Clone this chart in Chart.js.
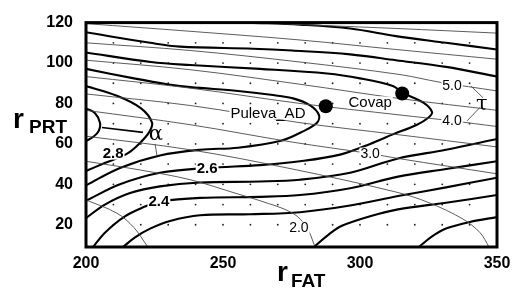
<!DOCTYPE html>
<html><head><meta charset="utf-8">
<script src="https://cdn.jsdelivr.net/npm/chart.js@4/dist/chart.umd.min.js"></script>
<style>html,body{margin:0;padding:0;background:#fff;}</style>
</head><body>
<canvas id="c" width="519" height="291"></canvas>
<script>
// ---- axes ----
const xTicks = [200, 250, 300, 350];
const yTicks = [20, 40, 60, 80, 100, 120];
const xMin = 200, xMax = 350, yMin = 9, yMax = 120;

// ---- sampling grid (dots) ----
const dotX = [210, 220, 230, 240, 250, 260, 270, 280, 290, 300, 310, 320, 330, 340];
const dotY = [20, 30, 40, 50, 60, 70, 80, 90, 100, 110];

// ---- alpha contours (thick) ----
const aNubX = [200, 203.3, 205.1, 204.7, 202.9, 200];
const aNubY = [77.6, 75.2, 70.5, 66.6, 63.8, 61.4];
const a28X = [200, 211.3, 220.1, 224.1, 223.0, 219.7, 215.0, 206.6, 200];
const a28Y = [88.6, 83.8, 77.6, 70.5, 65.7, 60.5, 55.2, 50.4, 46.6];
const aPulX = [200, 217.5, 229.6, 238.0, 255.5, 267.5, 275.9, 281.8, 285.0, 284.3, 279.2, 270.8, 255.5, 241.6, 227.0, 212.4, 200];
const aPulY = [97.1, 92.4, 89.5, 88.1, 86.2, 84.3, 82.4, 79.0, 74.3, 70.5, 66.2, 61.4, 58.1, 57.1, 54.3, 48.1, 39.5];
const aCovX = [200, 223.7, 238.0, 263.5, 288.0, 300.0, 312.0, 315.7, 323.0, 326.3, 324.8, 320.8, 312.0, 303.7, 292.7, 278.1, 263.5, 244.2, 227.0, 212.4, 200];
const aCovY = [105.2, 100.5, 99.0, 97.1, 94.8, 92.4, 88.6, 85.2, 80.5, 75.7, 72.8, 69.5, 64.7, 60.0, 54.7, 51.4, 49.5, 48.1, 45.7, 40.0, 31.9];
const aU1X = [200, 223.4, 234.3, 261.0, 275.2, 296.4, 313.1, 331.4, 350];
const aU1Y = [115.2, 110.0, 108.1, 107.1, 106.2, 104.3, 101.4, 98.1, 93.3];
const aU0X = [259.9, 278.1, 296.4, 313.1, 331.4, 350];
const aU0Y = [120, 119.0, 117.1, 113.3, 110.0, 106.7];
const aL1X = [200, 206.9, 216.1, 227.0, 241.6, 263.5, 278.1, 296.4, 313.9, 331.4, 350];
const aL1Y = [23.3, 30.0, 35.7, 39.0, 40.9, 41.4, 42.3, 45.7, 52.8, 57.1, 62.4];
const aL2X = [202.6, 206.9, 214.2, 221.5, 226.6, 241.6, 263.5, 278.1, 296.4, 313.9, 331.4, 350];
const aL2Y = [9, 16.1, 24.2, 29.0, 31.4, 33.3, 33.8, 34.7, 38.1, 43.8, 47.6, 51.4];
const aL3X = [213.5, 217.9, 223.4, 230.7, 241.6, 259.9, 278.1, 296.4, 313.9, 331.4, 350];
const aL3Y = [9, 13.8, 18.1, 21.9, 24.7, 25.2, 26.2, 29.5, 34.2, 38.5, 43.3];
const aB1X = [283.2, 289.1, 293.4, 303.7, 313.9, 331.4, 350];
const aB1Y = [9, 15.7, 19.5, 24.2, 27.6, 30.9, 34.7];
const aB2X = [321.5, 326.3, 331.4, 340.1, 350];
const aB2Y = [9, 14.2, 18.1, 21.4, 23.8];

// ---- tau contours (thin) ----
const t0X = [259.9, 313.1, 350];
const t0Y = [120, 117.1, 114.8];
const t1X = [200, 238.0, 278.1, 313.1, 350];
const t1Y = [119.5, 115.7, 111.4, 106.7, 101.9];
const t2X = [200, 238.0, 278.1, 314.6, 329.2, 350];
const t2Y = [110.0, 106.2, 100.5, 94.3, 90.5, 86.2];
const t3X = [200, 238.0, 278.1, 314.6, 350];
const t3Y = [101.4, 96.7, 89.5, 82.4, 76.6];
const t4X = [200, 238.0, 278.1, 314.6, 333.6, 350];
const t4Y = [93.3, 87.6, 80.0, 74.3, 71.4, 68.6];
const t5X = [200, 238.0, 278.1, 313.1, 350];
const t5Y = [84.7, 79.0, 70.5, 64.7, 58.5];
const t6X = [200, 238.0, 275.2, 303.7, 313.9, 350];
const t6Y = [76.6, 69.5, 60.9, 55.2, 52.8, 45.2];
const t7X = [200, 238.0, 275.2, 313.1, 325.2, 337.6, 343.8, 347.1];
const t7Y = [63.8, 57.1, 47.6, 36.2, 30.9, 22.8, 16.1, 9];
const t8X = [200, 219.7, 238.0, 255.5, 263.5, 275.5, 280.6, 283.6];
const t8Y = [51.4, 47.1, 42.3, 35.2, 31.9, 25.7, 18.6, 9];
const t9X = [200, 211.3, 217.5, 222.3];
const t9Y = [32.3, 25.7, 18.6, 9.5];

// ---- leader lines ----
const leadTau5X = [340.5, 344.9], leadTau5Y = [88.6, 82.8];
const leadTau4X = [339.1, 343.8], leadTau4Y = [71.4, 78.1];
const leadAlphaDownX = [225.2, 225.9], leadAlphaDownY = [60.0, 54.3];
const leadAlphaLeftX = [205.8, 220.8], leadAlphaLeftY = [68.1, 65.7];

// ---- samples ----
const sampleNames = ['Puleva_AD', 'Covap'];
const sampleX = [287.5, 315.4];
const sampleY = [78.6, 84.9];
const sampleLabelX = [266.4, 303.7];
const sampleLabelY = [75.2, 80.5];

// ---- contour labels ----
const alphaLabels = ['2.8', '2.6', '2.4'];
const alphaLabelX = [209.9, 244.2, 226.6];
const alphaLabelY = [55.2, 48.1, 31.4];
const tauLabels = ['5.0', '4.0', '3.0', '2.0'];
const tauLabelX = [333.6, 333.6, 303.7, 277.7];
const tauLabelY = [89.0, 71.4, 55.2, 18.6];
const symbolNames = ['τ', 'α'];
const symbolX = [344.5, 225.5];
const symbolY = [79.5, 64.7];

const FONT = '"Liberation Sans", Arial, sans-serif';
const zip = (xs, ys) => xs.map((v, i) => ({x: v, y: ys[i]}));

const datasets = [];
function line(xs, ys, thick) {
  datasets.push({
    type: 'line', data: zip(xs, ys), parsing: false,
    borderColor: thick ? '#000' : '#4a4a4a', borderWidth: thick ? 2.1 : 0.9,
    pointRadius: 0, tension: 0.35, fill: false
  });
}
[[t0X,t0Y],[t1X,t1Y],[t2X,t2Y],[t3X,t3Y],[t4X,t4Y],[t5X,t5Y],[t6X,t6Y],[t7X,t7Y],[t8X,t8Y],[t9X,t9Y],
 [leadTau5X,leadTau5Y],[leadTau4X,leadTau4Y],[leadAlphaDownX,leadAlphaDownY]].forEach(p => line(p[0], p[1], false));
[[aNubX,aNubY],[a28X,a28Y],[aPulX,aPulY],[aCovX,aCovY],[aU1X,aU1Y],[aU0X,aU0Y],[aL1X,aL1Y],[aL2X,aL2Y],[aL3X,aL3Y],[aB1X,aB1Y],[aB2X,aB2Y]]
  .forEach(p => line(p[0], p[1], true));
datasets.push({type:'line', data: zip(leadAlphaLeftX, leadAlphaLeftY), parsing:false, borderColor:'#000', borderWidth:1.6, pointRadius:0, tension:0});

const gridPts = [];
dotY.forEach(yv => dotX.forEach(xv => gridPts.push({x: xv, y: yv})));
datasets.push({type:'scatter', data: gridPts, parsing:false, pointRadius: 0.9, backgroundColor:'#222', borderWidth:0, showLine:false});

function box(ctx, text, px, py, font) {
  ctx.font = font;
  const w = ctx.measureText(text).width;
  ctx.fillStyle = '#fff';
  ctx.fillRect(px - w / 2 - 1, py - 6, w + 2, 12);
  ctx.fillStyle = '#000';
  ctx.fillText(text, px, py + 0.5);
}

const annot = {
  id: 'annot',
  afterDatasetsDraw(chart) {
    const {ctx, scales: {x, y}, chartArea: a} = chart;
    ctx.save();
    ctx.beginPath(); ctx.rect(a.left, a.top, a.right - a.left, a.bottom - a.top); ctx.clip();
    ctx.textAlign = 'center'; ctx.textBaseline = 'middle';
    tauLabels.forEach((t, i) => box(ctx, t, x.getPixelForValue(tauLabelX[i]), y.getPixelForValue(tauLabelY[i]), '14px ' + FONT));
    alphaLabels.forEach((t, i) => box(ctx, t, x.getPixelForValue(alphaLabelX[i]), y.getPixelForValue(alphaLabelY[i]), 'bold 15px ' + FONT));
    sampleNames.forEach((t, i) => box(ctx, t, x.getPixelForValue(sampleLabelX[i]), y.getPixelForValue(sampleLabelY[i]), '15px ' + FONT));
    ctx.font = '21px "DejaVu Serif", serif';
    ctx.fillStyle = '#000';
    symbolNames.forEach((t, i) => ctx.fillText(t, x.getPixelForValue(symbolX[i]), y.getPixelForValue(symbolY[i])));
    // sample points
    sampleX.forEach((v, i) => {
      ctx.beginPath();
      ctx.arc(x.getPixelForValue(v), y.getPixelForValue(sampleY[i]), 7, 0, Math.PI * 2);
      ctx.fillStyle = '#000'; ctx.fill();
    });
    ctx.restore();
    // frame
    ctx.save();
    ctx.strokeStyle = '#000'; ctx.lineWidth = 3;
    ctx.strokeRect(a.left, a.top, a.right - a.left, a.bottom - a.top);
    ctx.restore();
    // axis titles
    ctx.save();
    ctx.fillStyle = '#000'; ctx.textBaseline = 'alphabetic'; ctx.textAlign = 'left';
    ctx.font = 'bold 28px ' + FONT; ctx.fillText('r', 13, 128);
    ctx.font = 'bold 19px ' + FONT; ctx.fillText('PRT', 29, 133);
    ctx.font = 'bold 28px ' + FONT; ctx.fillText('r', 277, 281);
    ctx.font = 'bold 19px ' + FONT; ctx.fillText('FAT', 291, 287);
    ctx.restore();
  }
};

new Chart(document.getElementById('c'), {
  data: {datasets},
  options: {
    responsive: false, animation: false, devicePixelRatio: 1,
    layout: {padding: {left: 0, right: 22, top: 14, bottom: 0}},
    plugins: {legend: {display: false}, tooltip: {enabled: false}},
    events: [],
    scales: {
      x: {
        type: 'linear', min: xMin, max: xMax,
        afterBuildTicks: s => { s.ticks = xTicks.map(v => ({value: v})); },
        afterFit: s => { s.height = 44; },
        grid: {display: false, drawTicks: false}, border: {display: false},
        ticks: {padding: 7, color: '#000', font: {family: FONT, size: 16, weight: 'bold'}}
      },
      y: {
        type: 'linear', min: yMin, max: yMax,
        afterBuildTicks: s => { s.ticks = yTicks.map(v => ({value: v})); },
        afterFit: s => { s.width = 86; },
        grid: {display: false, drawTicks: false}, border: {display: false},
        ticks: {padding: 13, color: '#000', font: {family: FONT, size: 16, weight: 'bold'}}
      }
    }
  },
  plugins: [annot]
});
</script>
</body></html>
